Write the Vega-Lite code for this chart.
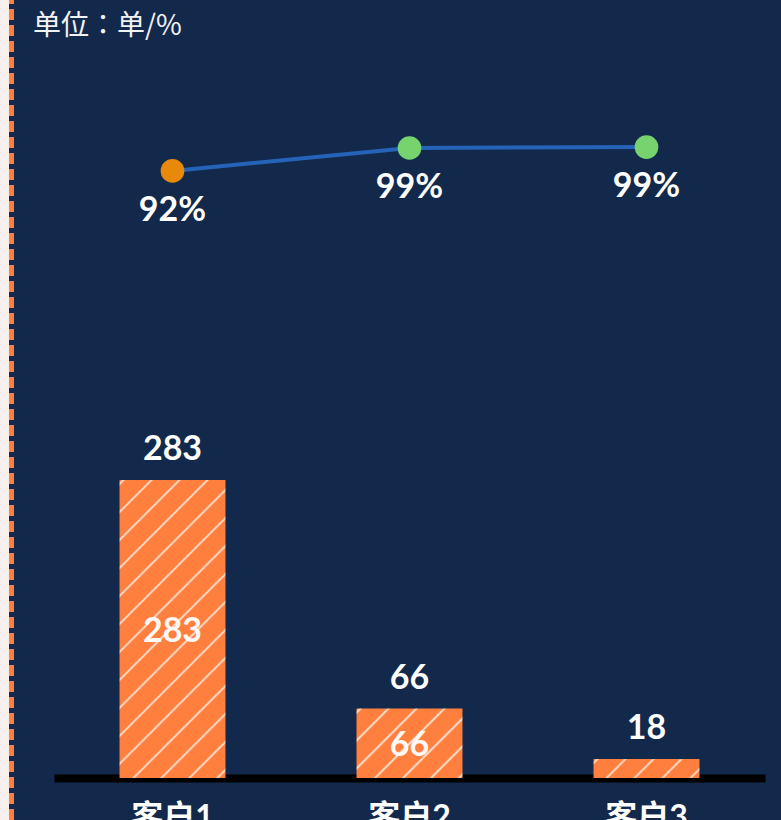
{
  "$schema": "https://vega.github.io/schema/vega-lite/v6.json",
  "width": 711,
  "height": 718,
  "autosize": {"type": "none"},
  "padding": {"left": 54, "top": 60, "right": 16, "bottom": 42},
  "background": "#13294b",
  "datasets": {
    "main": [
      {"cust": "客户1", "count": 283, "rate": 0.917},
      {"cust": "客户2", "count": 66, "rate": 0.99},
      {"cust": "客户3", "count": 18, "rate": 0.993}
    ],
    "frame": [{"part": "left", "caption": "单位：单/%"}]
  },
  "layer": [
    {
      "data": {"name": "main"},
      "layer": [
        {
          "layer": [
            {
              "transform": [{"filter": "datum.cust === '客户1'"}],
              "mark": {"type": "bar", "color": {"gradient": "linear", "x1": 0, "y1": 0, "x2": 0.428, "y2": 1.203, "stops": [
                {"offset": 0, "color": "#FF7F3F"},
                {"offset": 0.00371, "color": "#FF7F3F"}, {"offset": 0.0099, "color": "#FFE6D6"}, {"offset": 0.01609, "color": "#FF7F3F"},
                {"offset": 0.07302, "color": "#FF7F3F"}, {"offset": 0.07921, "color": "#FFE6D6"}, {"offset": 0.0854, "color": "#FF7F3F"},
                {"offset": 0.14233, "color": "#FF7F3F"}, {"offset": 0.14851, "color": "#FFE6D6"}, {"offset": 0.1547, "color": "#FF7F3F"},
                {"offset": 0.21163, "color": "#FF7F3F"}, {"offset": 0.21782, "color": "#FFE6D6"}, {"offset": 0.22401, "color": "#FF7F3F"},
                {"offset": 0.28094, "color": "#FF7F3F"}, {"offset": 0.28713, "color": "#FFE6D6"}, {"offset": 0.29332, "color": "#FF7F3F"},
                {"offset": 0.35025, "color": "#FF7F3F"}, {"offset": 0.35644, "color": "#FFE6D6"}, {"offset": 0.36262, "color": "#FF7F3F"},
                {"offset": 0.41955, "color": "#FF7F3F"}, {"offset": 0.42574, "color": "#FFE6D6"}, {"offset": 0.43193, "color": "#FF7F3F"},
                {"offset": 0.48886, "color": "#FF7F3F"}, {"offset": 0.49505, "color": "#FFE6D6"}, {"offset": 0.50124, "color": "#FF7F3F"},
                {"offset": 0.55817, "color": "#FF7F3F"}, {"offset": 0.56436, "color": "#FFE6D6"}, {"offset": 0.57054, "color": "#FF7F3F"},
                {"offset": 0.62748, "color": "#FF7F3F"}, {"offset": 0.63366, "color": "#FFE6D6"}, {"offset": 0.63985, "color": "#FF7F3F"},
                {"offset": 0.69678, "color": "#FF7F3F"}, {"offset": 0.70297, "color": "#FFE6D6"}, {"offset": 0.70916, "color": "#FF7F3F"},
                {"offset": 0.76609, "color": "#FF7F3F"}, {"offset": 0.77228, "color": "#FFE6D6"}, {"offset": 0.77847, "color": "#FF7F3F"},
                {"offset": 0.8354, "color": "#FF7F3F"}, {"offset": 0.84158, "color": "#FFE6D6"}, {"offset": 0.84777, "color": "#FF7F3F"},
                {"offset": 0.9047, "color": "#FF7F3F"}, {"offset": 0.91089, "color": "#FFE6D6"}, {"offset": 0.91708, "color": "#FF7F3F"},
                {"offset": 0.97401, "color": "#FF7F3F"}, {"offset": 0.9802, "color": "#FFE6D6"}, {"offset": 0.98639, "color": "#FF7F3F"},
                {"offset": 1, "color": "#FF7F3F"}
              ]}},
              "encoding": {
                "x": {"field": "cust", "type": "nominal", "sort": ["客户1", "客户2", "客户3"], "scale": {"type": "band", "domain": ["客户1", "客户2", "客户3"], "paddingInner": 0.553, "paddingOuter": 0.2765}, "axis": {"title": null, "labelAngle": 0, "ticks": false, "grid": false, "domainColor": "#000000", "domainWidth": 8, "labelColor": "#ffffff", "labelFontSize": 32, "labelFontWeight": "bold", "labelFont": "Lato, Noto Sans CJK SC", "labelPadding": 24}},
                "y": {"field": "count", "type": "quantitative", "scale": {"domain": [0, 682], "nice": false}, "axis": null}
              }
            },
            {
              "transform": [{"filter": "datum.cust === '客户2'"}],
              "mark": {"type": "bar", "color": {"gradient": "linear", "x1": 0, "y1": 0, "x2": 1.1581, "y2": 0.7591, "stops": [
                {"offset": 0, "color": "#FF7F3F"},
                {"offset": 0.00855, "color": "#FF7F3F"}, {"offset": 0.02279, "color": "#FFE6D6"}, {"offset": 0.03704, "color": "#FF7F3F"},
                {"offset": 0.16809, "color": "#FF7F3F"}, {"offset": 0.18234, "color": "#FFE6D6"}, {"offset": 0.19658, "color": "#FF7F3F"},
                {"offset": 0.32764, "color": "#FF7F3F"}, {"offset": 0.34188, "color": "#FFE6D6"}, {"offset": 0.35613, "color": "#FF7F3F"},
                {"offset": 0.48718, "color": "#FF7F3F"}, {"offset": 0.50142, "color": "#FFE6D6"}, {"offset": 0.51567, "color": "#FF7F3F"},
                {"offset": 0.64672, "color": "#FF7F3F"}, {"offset": 0.66097, "color": "#FFE6D6"}, {"offset": 0.67521, "color": "#FF7F3F"},
                {"offset": 0.80627, "color": "#FF7F3F"}, {"offset": 0.82051, "color": "#FFE6D6"}, {"offset": 0.83476, "color": "#FF7F3F"},
                {"offset": 0.96581, "color": "#FF7F3F"}, {"offset": 0.98006, "color": "#FFE6D6"}, {"offset": 0.9943, "color": "#FF7F3F"},
                {"offset": 1, "color": "#FF7F3F"}
              ]}},
              "encoding": {
                "x": {"field": "cust", "type": "nominal", "sort": ["客户1", "客户2", "客户3"]},
                "y": {"field": "count", "type": "quantitative"}
              }
            },
            {
              "transform": [{"filter": "datum.cust === '客户3'"}],
              "mark": {"type": "bar", "color": {"gradient": "linear", "x1": 0, "y1": 0, "x2": 1.1427, "y2": 0.2043, "stops": [
                {"offset": 0, "color": "#FF7F3F"},
                {"offset": 0.012, "color": "#FF7F3F"}, {"offset": 0.032, "color": "#FFE6D6"}, {"offset": 0.052, "color": "#FF7F3F"},
                {"offset": 0.236, "color": "#FF7F3F"}, {"offset": 0.256, "color": "#FFE6D6"}, {"offset": 0.276, "color": "#FF7F3F"},
                {"offset": 0.46, "color": "#FF7F3F"}, {"offset": 0.48, "color": "#FFE6D6"}, {"offset": 0.5, "color": "#FF7F3F"},
                {"offset": 0.684, "color": "#FF7F3F"}, {"offset": 0.704, "color": "#FFE6D6"}, {"offset": 0.724, "color": "#FF7F3F"},
                {"offset": 0.908, "color": "#FF7F3F"}, {"offset": 0.928, "color": "#FFE6D6"}, {"offset": 0.948, "color": "#FF7F3F"},
                {"offset": 1, "color": "#FF7F3F"}
              ]}},
              "encoding": {
                "x": {"field": "cust", "type": "nominal", "sort": ["客户1", "客户2", "客户3"]},
                "y": {"field": "count", "type": "quantitative"}
              }
            },
            {
              "mark": {"type": "text", "baseline": "middle", "dy": -30, "fontSize": 34, "fontWeight": "bold", "font": "Lato", "color": "#ffffff"},
              "encoding": {
                "x": {"field": "cust", "type": "nominal", "sort": ["客户1", "客户2", "客户3"]},
                "y": {"field": "count", "type": "quantitative"},
                "text": {"field": "count", "type": "quantitative"}
              }
            }
          ]
        },
        {
          "transform": [{"filter": "datum.count >= 40"}],
          "mark": {"type": "text", "baseline": "middle", "dy": 3, "fontSize": 34, "fontWeight": "bold", "font": "Lato", "color": "#ffffff", "opacity": 0.95},
          "encoding": {
            "x": {"field": "cust", "type": "nominal", "sort": ["客户1", "客户2", "客户3"]},
            "y": {"field": "count", "type": "quantitative", "scale": {"domain": [0, 1364], "nice": false}, "axis": null},
            "text": {"field": "count", "type": "quantitative"}
          }
        },
        {
          "layer": [
            {
              "mark": {"type": "line", "color": "#2563B8", "strokeWidth": 4},
              "encoding": {
                "x": {"field": "cust", "type": "nominal", "sort": ["客户1", "客户2", "客户3"]},
                "y": {"field": "rate", "type": "quantitative", "scale": {"domain": [-1.0145, 1.27], "zero": false, "nice": false}, "axis": null}
              }
            },
            {
              "mark": {"type": "circle", "size": 560, "opacity": 1},
              "encoding": {
                "x": {"field": "cust", "type": "nominal", "sort": ["客户1", "客户2", "客户3"]},
                "y": {"field": "rate", "type": "quantitative"},
                "color": {"condition": {"test": "datum.rate < 0.95", "value": "#E8890B"}, "value": "#76D36E"}
              }
            },
            {
              "mark": {"type": "text", "baseline": "middle", "dy": 40, "fontSize": 34, "fontWeight": "bold", "font": "Lato", "color": "#ffffff"},
              "encoding": {
                "x": {"field": "cust", "type": "nominal", "sort": ["客户1", "客户2", "客户3"]},
                "y": {"field": "rate", "type": "quantitative"},
                "text": {"field": "rate", "type": "quantitative", "format": ".0%"}
              }
            }
          ]
        }
      ],
      "resolve": {"scale": {"y": "independent"}}
    },
    {
      "data": {"name": "frame"},
      "layer": [
        {
          "mark": {"type": "rect", "color": "#f9efec"},
          "encoding": {
            "x": {"datum": -54, "type": "quantitative", "scale": {"domain": [0, 711], "nice": false}, "axis": null},
            "x2": {"datum": -45},
            "y": {"datum": -42, "type": "quantitative", "scale": {"domain": [0, 718], "nice": false}, "axis": null},
            "y2": {"datum": 778}
          }
        },
        {
          "mark": {"type": "rule", "color": "#FF7F3F", "strokeWidth": 5, "strokeDash": [11, 5]},
          "encoding": {
            "x": {"datum": -42.5, "type": "quantitative"},
            "y": {"datum": -42, "type": "quantitative"},
            "y2": {"datum": 778}
          }
        },
        {
          "mark": {"type": "text", "align": "left", "baseline": "middle", "fontSize": 28, "font": "Noto Sans CJK JP", "color": "#f2f2f2"},
          "encoding": {
            "x": {"datum": -21, "type": "quantitative"},
            "y": {"datum": 751, "type": "quantitative"},
            "text": {"field": "caption", "type": "nominal"}
          }
        }
      ]
    }
  ],
  "resolve": {"scale": {"x": "independent", "y": "independent"}},
  "config": {"view": {"stroke": null}}
}
